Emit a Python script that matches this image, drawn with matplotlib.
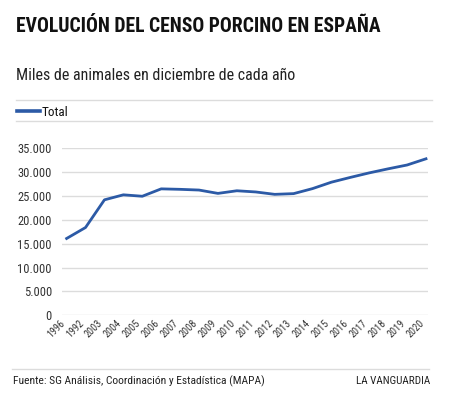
import matplotlib
matplotlib.use("Agg")
import matplotlib.pyplot as plt
from matplotlib import font_manager
from matplotlib.lines import Line2D

# ---- data ----
years = ["1996", "1992", "2003", "2004", "2005", "2006", "2007", "2008", "2009", "2010",
         "2011", "2012", "2013", "2014", "2015", "2016", "2017", "2018", "2019", "2020"]
total = [16100, 18400, 24200, 25250, 24950, 26500, 26400, 26250, 25550, 26100,
         25850, 25350, 25500, 26550, 27900, 28900, 29850, 30700, 31500, 32800]
yticks = [0, 5000, 10000, 15000, 20000, 25000, 30000, 35000]
ytick_labels = ["0", "5.000", "10.000", "15.000", "20.000", "25.000", "30.000", "35.000"]

title = "EVOLUCIÓN DEL CENSO PORCINO EN ESPAÑA"
subtitle = "Miles de animales en diciembre de cada año"
legend_label = "Total"
source = "Fuente: SG Análisis, Coordinación y Estadística (MAPA)"
brand = "LA VANGUARDIA"

# ---- fonts ----
available = {f.name for f in font_manager.fontManager.ttflist}
family = "DejaVu Sans"
for cand in ["Roboto Condensed", "Liberation Sans Narrow", "Roboto"]:
    if cand in available:
        family = cand
        break
plt.rcParams["font.family"] = [family, "DejaVu Sans"]

W, H = 449, 397
fig = plt.figure(figsize=(W / 100, H / 100), dpi=100)
fig.patch.set_facecolor("white")
renderer = fig.canvas.get_renderer()

def fx(px):
    return px / W

def fy(py):
    return 1 - py / H

def fit_text(x, y, s, target_w, ha="left", **kw):
    t = fig.text(fx(x), fy(y), s, ha=ha, va="baseline", fontsize=10, **kw)
    w = t.get_window_extent(renderer).width
    t.set_fontsize(10 * target_w / w)
    return t

LINE_COLOR = "#2c5aa6"
GRID = "#dcdcdc"

fit_text(16, 32.5, title, 364, fontweight="bold", color="#111111")
fit_text(16, 80, subtitle, 277, color="#222222")

# legend block
fig.add_artist(Line2D([fx(16), fx(432)], [fy(100), fy(100)], color=GRID, lw=1))
fig.add_artist(Line2D([fx(16), fx(432)], [fy(121), fy(121)], color=GRID, lw=1))
fig.add_artist(Line2D([fx(17), fx(39.5)], [fy(111), fy(111)], color=LINE_COLOR, lw=2.6))
fit_text(42, 115.5, legend_label, 26.5, color="#111111")

# ---- axes ----
ax = fig.add_axes([fx(61.7), fy(315.3), fx(427.7 - 61.7), (315.3 - 148.3) / H])
x = list(range(len(years)))
ax.plot(x, total, color=LINE_COLOR, lw=2.0, solid_joinstyle="round", clip_on=False)
ax.set_ylim(0, 35000)
ax.set_xlim(-0.26, len(years) - 1 + 0.09)
ax.set_yticks(yticks)
ax.set_yticklabels(ytick_labels)
ax.set_xticks(x)
ax.set_xticklabels(years)
ax.grid(axis="y", color=GRID, lw=1)
ax.set_axisbelow(True)
for sp in ax.spines.values():
    sp.set_visible(False)
ax.tick_params(axis="both", length=0, colors="#333333")
ax.tick_params(axis="y", pad=7)

# size tick labels
ylab = ax.get_yticklabels()
tmp = fig.text(0, 0, "35.000", fontsize=10)
wy = tmp.get_window_extent(renderer).width
tmp.remove()
ysize = 10 * 34 / wy
for t in ylab:
    t.set_fontsize(ysize)
    t.set_color("#333333")

tmp = fig.text(0, 0, "1996", fontsize=10)
wx = tmp.get_window_extent(renderer).width
tmp.remove()
xsize = 10 * 20 / wx
for t in ax.get_xticklabels():
    t.set_fontsize(xsize)
    t.set_rotation(45)
    t.set_ha("right")
    t.set_va("top")
    t.set_rotation_mode("default")
    t.set_color("#333333")
ax.tick_params(axis="x", pad=2)

# ---- footer ----
fig.add_artist(Line2D([fx(12), fx(429)], [fy(369.3), fy(369.3)], color=GRID, lw=1))
fit_text(13, 384, source, 249, color="#222222")
fit_text(430, 384, brand, 74, ha="right", color="#222222")

fig.savefig("out.png", dpi=100, facecolor="white")
